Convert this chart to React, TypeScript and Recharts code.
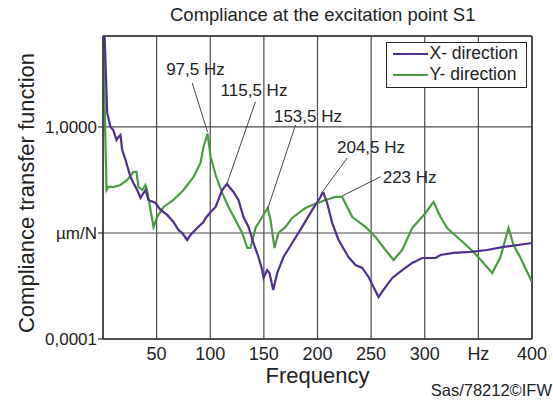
import React from 'react';
import { LineChart, Line, XAxis, YAxis, CartesianGrid, ReferenceLine, ReferenceDot } from 'recharts';

const FONT = '"Liberation Sans", Arial, Helvetica, sans-serif';
const PURPLE = '#4f2f8f';
const GREEN = '#4c9a44';
const GRID = '#4a4a4a';
const INK = '#222';

// X-direction compliance (µm/N) vs frequency (Hz)
const xFreq = [
  1.5, 3.9, 7, 9.5, 12.6, 14.5, 16.3, 17.9, 21, 25.6, 28.4, 31.9, 35, 36.6, 39.6, 42.4, 49, 53.6,
  59.9, 65.7, 70.4, 73.8, 78.5, 81.6, 87.8, 93.7, 95.6, 100.4, 105, 111.1, 115.5, 121.7, 126.3, 131,
  135.7, 140.3, 145, 148.4, 149.7, 153.1, 155.2, 158.7, 162.4, 168.3, 176.4, 185.7, 195.1, 202.8,
  204.5, 205.6, 209, 213.7, 219.6, 228.9, 235.4, 241.7, 247.6, 252.2, 256.9, 261.5, 269.7, 279,
  288.3, 297.6, 310, 314.7, 326.8, 342.7, 358.2, 373.4, 400,
];
const xComp = [
  52, 1.84, 1.0, 0.877, 0.569, 0.647, 0.706, 0.368, 0.238, 0.114, 0.0877, 0.0647, 0.0457, 0.0521,
  0.0647, 0.042, 0.0368, 0.0272, 0.0219, 0.0161, 0.0114, 0.01, 0.00738, 0.00916, 0.0124, 0.0161,
  0.019, 0.0249, 0.031, 0.0647, 0.0841, 0.0594, 0.042, 0.02, 0.013, 0.00647, 0.00352, 0.002,
  0.00142, 0.002, 0.00176, 0.000842, 0.00176, 0.00352, 0.00647, 0.013, 0.0272, 0.0478, 0.0569,
  0.0569, 0.0368, 0.0155, 0.00738, 0.00352, 0.00249, 0.00219, 0.00148, 0.000957, 0.000619,
  0.000842, 0.00142, 0.002, 0.00272, 0.00337, 0.00337, 0.00385, 0.0042, 0.00439, 0.00478, 0.00545,
  0.00647,
];

// Y-direction compliance (µm/N) vs frequency (Hz)
const yFreq = [
  0.5, 2, 3.3, 5.1, 9.8, 16.3, 22.6, 28.4, 31.2, 33.1, 36.6, 39.6, 41.2, 44.3, 47.1, 50.5, 56.4,
  65.7, 75.1, 84.4, 90.9, 93.7, 97.5, 100.4, 105, 111.1, 117, 123.5, 129.8, 134.5, 137.5, 142.2,
  148.4, 153.5, 156.2, 159.9, 163.6, 170.2, 176.4, 182.3, 188.8, 195.1, 202.8, 207.5, 216.8, 223,
  232.4, 244.8, 254.1, 263.4, 270.9, 279, 288.3, 300.7, 308.2, 314.7, 320.9, 333.3, 345.5, 354.8,
  362.9, 370.6, 378.1, 382.8, 389.3, 400,
];
const yComp = [
  52, 0.877, 0.0647, 0.0738, 0.0738, 0.0805, 0.1, 0.142, 0.142, 0.0738, 0.0647, 0.0805, 0.0647,
  0.0272, 0.013, 0.02, 0.031, 0.042, 0.0647, 0.114, 0.21, 0.42, 0.75, 0.272, 0.124, 0.0569, 0.031,
  0.0176, 0.01, 0.00521, 0.00521, 0.0124, 0.02, 0.0296, 0.0176, 0.00521, 0.01, 0.013, 0.0192,
  0.0238, 0.0296, 0.0337, 0.0385, 0.042, 0.0478, 0.0478, 0.02, 0.013, 0.00841, 0.00478, 0.0031,
  0.00478, 0.0124, 0.0238, 0.0385, 0.02, 0.0124, 0.00738, 0.00439, 0.00272, 0.00176, 0.00352,
  0.0124, 0.00594, 0.00337, 0.00119,
];

// resonance callouts
const annoText = ['97,5 Hz', '115,5 Hz', '153,5 Hz', '204,5 Hz', '223 Hz'];
const annoPeakFreq = [97.5, 115.5, 153.5, 204.5, 223];
const annoPeakVal = [0.8, 0.0841, 0.0284, 0.0594, 0.0499];
const annoStartFreq = [83.2, 142.2, 179.5, 227.7, 258.7];
const annoStartVal = [6.76, 3.0, 1.09, 0.26, 0.115];
const annoTextFreq = [86.2, 140.8, 191.1, 249.9, 285.9];
const annoTextVal = [12.4, 4.99, 1.61, 0.42, 0.115];

const xTicks = [50, 100, 150, 200, 250, 300, 350, 400];
const yTicks = [0.0001, 0.01, 1];
const yTickLabels: Record<string, string> = { '0.0001': '0,0001', '0.01': 'µm/N', '1': '1,0000' };

const seriesX = xFreq.map((f, i) => ({ f, c: xComp[i] }));
const seriesY = yFreq.map((f, i) => ({ f, c: yComp[i] }));

const legendItems = [
  { label: 'X- direction', color: PURPLE },
  { label: 'Y- direction', color: GREEN },
];

export default function App() {
  return (
    <div style={{ position: 'absolute', left: 0, top: 0, width: 553, height: 401, background: '#fff', fontFamily: FONT }}>
      <LineChart width={553} height={401} margin={{ top: 36, right: 21, bottom: 0, left: 0 }}>
        <CartesianGrid stroke={GRID} strokeWidth={1.2} />
        <XAxis
          type="number"
          dataKey="f"
          domain={[0, 400]}
          ticks={xTicks}
          allowDataOverflow
          height={62}
          tickFormatter={(v: number) => (v === 350 ? 'Hz' : String(v))}
          tick={{ fontSize: 18, fill: INK, fontFamily: FONT }}
          tickLine={false}
          tickSize={0}
          tickMargin={8}
          axisLine={{ stroke: '#333', strokeWidth: 1.5 }}
          label={{ value: 'Frequency', position: 'insideBottom', offset: 18, fontSize: 22, fill: INK, fontFamily: FONT }}
        />
        <YAxis
          type="number"
          scale="log"
          domain={[0.0001, 52]}
          ticks={yTicks}
          allowDataOverflow
          width={103}
          tickFormatter={(v: number) => yTickLabels[String(v)] ?? ''}
          tick={{ fontSize: 17, fill: INK, fontFamily: FONT }}
          tickLine={{ stroke: '#333', strokeWidth: 1.2 }}
          tickSize={5}
          tickMargin={1}
          axisLine={{ stroke: '#333', strokeWidth: 1.5 }}
        />
        <ReferenceLine y={52} stroke="#333" strokeWidth={1.5} />
        <ReferenceLine x={400} stroke="#333" strokeWidth={1.5} />
        <Line data={seriesY} dataKey="c" stroke={GREEN} strokeWidth={2.2} dot={false} isAnimationActive={false} />
        <Line data={seriesX} dataKey="c" stroke={PURPLE} strokeWidth={2.2} dot={false} isAnimationActive={false} />
        {annoText.map((t, i) => (
          <ReferenceLine
            key={'l' + t}
            segment={[
              { x: annoStartFreq[i], y: annoStartVal[i] },
              { x: annoPeakFreq[i], y: annoPeakVal[i] },
            ]}
            stroke="#444"
            strokeWidth={1}
            ifOverflow="visible"
          />
        ))}
        {annoText.map((t, i) => (
          <ReferenceDot
            key={'t' + t}
            x={annoTextFreq[i]}
            y={annoTextVal[i]}
            r={0}
            fill="none"
            stroke="none"
            ifOverflow="visible"
            label={{ value: t, position: 'center', fontSize: 17, fill: INK, fontFamily: FONT }}
          />
        ))}
      </LineChart>

      <svg width={553} height={401} style={{ position: 'absolute', left: 0, top: 0, pointerEvents: 'none' }}>
        <text x={170} y={21} fontSize={18.5} fill={INK} fontFamily={FONT}>
          Compliance at the excitation point S1
        </text>
        <text transform="translate(33.5,193) rotate(-90)" textAnchor="middle" fontSize={22} fill={INK} fontFamily={FONT}>
          Compliance transfer function
        </text>
        <text x={552} y={396} textAnchor="end" fontSize={16.5} fill={INK} fontFamily={FONT}>
          Sas/78212©IFW
        </text>
      </svg>

      <div
        style={{
          position: 'absolute',
          left: 386,
          top: 42,
          width: 141,
          height: 46,
          boxSizing: 'border-box',
          border: '1.5px solid #222',
          background: '#fff',
        }}
      >
        {legendItems.map((it, i) => (
          <div
            key={it.label}
            style={{ position: 'absolute', left: 0, top: i * 21, height: 21, display: 'flex', alignItems: 'center' }}
          >
            <span style={{ display: 'inline-block', marginLeft: 5.5, width: 35, height: 2, background: it.color }} />
            <span style={{ marginLeft: 2, fontSize: 17.5, lineHeight: '21px', color: INK, whiteSpace: 'nowrap' }}>{it.label}</span>
          </div>
        ))}
      </div>
    </div>
  );
}
